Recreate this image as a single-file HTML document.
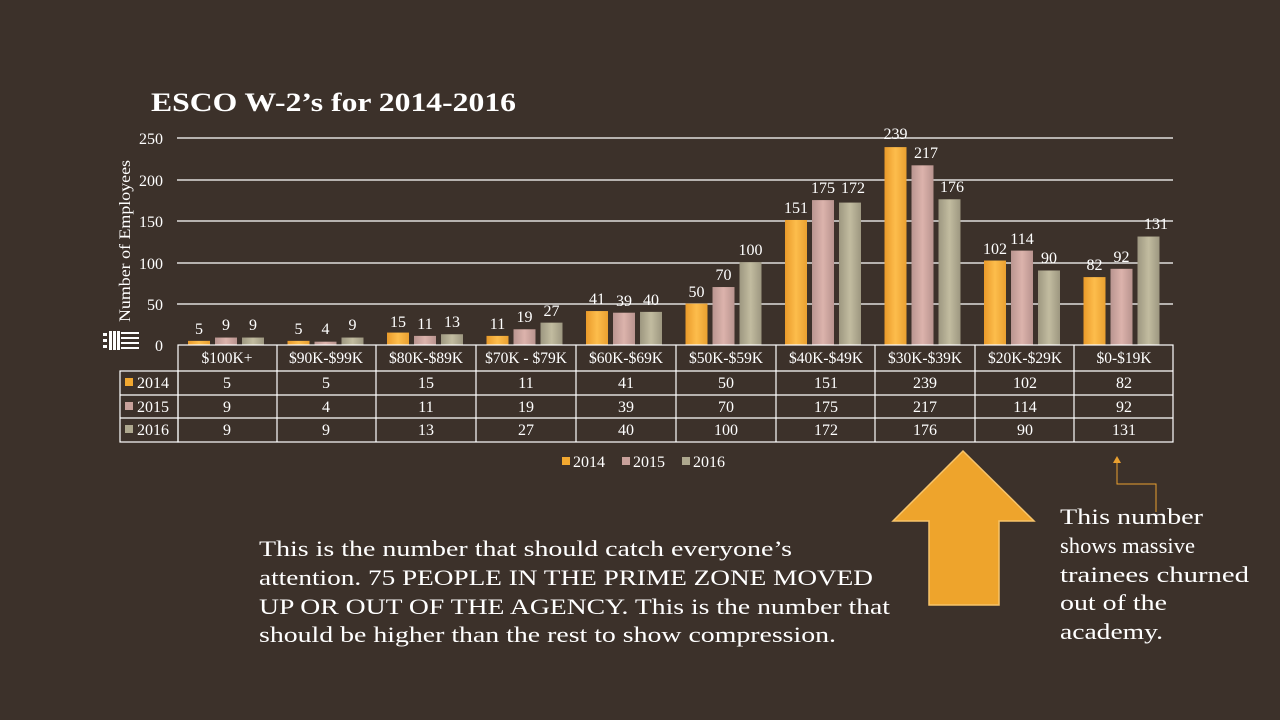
<!DOCTYPE html>
<html><head><meta charset="utf-8"><style>
html,body{margin:0;padding:0;background:#3c312a;}
svg{display:block;font-family:"Liberation Serif",serif;}
</style></head><body>
<svg width="1280" height="720" viewBox="0 0 1280 720" xmlns="http://www.w3.org/2000/svg">
<defs>
<linearGradient id="g1" x1="0" x2="1"><stop offset="0" stop-color="#e99a2a"/><stop offset=".5" stop-color="#fdbd4c"/><stop offset="1" stop-color="#e9a030"/></linearGradient>
<linearGradient id="g2" x1="0" x2="1"><stop offset="0" stop-color="#b99590"/><stop offset=".5" stop-color="#dcb3ac"/><stop offset="1" stop-color="#b8938e"/></linearGradient>
<linearGradient id="g3" x1="0" x2="1"><stop offset="0" stop-color="#9d9780"/><stop offset=".5" stop-color="#c2bca0"/><stop offset="1" stop-color="#9d9780"/></linearGradient>
</defs>
<rect width="1280" height="720" fill="#3c312a"/>
<text x="151" y="111" font-size="26" font-weight="bold" fill="#fff" textLength="365" lengthAdjust="spacingAndGlyphs">ESCO W-2’s for 2014-2016</text>
<g stroke="#fff" stroke-width="1.2">
<line x1="177" y1="138" x2="1173" y2="138"/><line x1="177" y1="180" x2="1173" y2="180"/>
<line x1="177" y1="221" x2="1173" y2="221"/><line x1="177" y1="263" x2="1173" y2="263"/>
<line x1="177" y1="304" x2="1173" y2="304"/>
</g>
<g fill="#fff" font-size="16" text-anchor="end">
<text x="163" y="144">250</text><text x="163" y="186">200</text><text x="163" y="227">150</text>
<text x="163" y="269">100</text><text x="163" y="310">50</text><text x="163" y="351">0</text>
</g>
<text transform="translate(130,322) rotate(-90)" font-size="16" fill="#fff" textLength="162" lengthAdjust="spacingAndGlyphs">Number of Employees</text>
<g fill="#fff"><rect x="103" y="333" width="4" height="3"/><rect x="103" y="339" width="4" height="3"/><rect x="103" y="345" width="4" height="3"/>
<rect x="109" y="331" width="3" height="19"/><rect x="113" y="331" width="3" height="19"/><rect x="117" y="331" width="3" height="19"/><rect x="121" y="332" width="18" height="2"/><rect x="121" y="337" width="18" height="2"/><rect x="121" y="342" width="18" height="2"/><rect x="121" y="347" width="18" height="2"/></g>
<g transform="translate(0,345) scale(1,-0.828)">
<g fill="url(#g1)">
<rect x="188" y="0" width="22" height="5"/><rect x="287.5" y="0" width="22" height="5"/><rect x="387" y="0" width="22" height="15"/><rect x="486.5" y="0" width="22" height="11"/><rect x="586" y="0" width="22" height="41"/><rect x="685.5" y="0" width="22" height="50"/><rect x="785" y="0" width="22" height="151"/><rect x="884.5" y="0" width="22" height="239"/><rect x="984" y="0" width="22" height="102"/><rect x="1083.5" y="0" width="22" height="82"/>
</g>
<g fill="url(#g2)">
<rect x="215" y="0" width="22" height="9"/><rect x="314.5" y="0" width="22" height="4"/><rect x="414" y="0" width="22" height="11"/><rect x="513.5" y="0" width="22" height="19"/><rect x="613" y="0" width="22" height="39"/><rect x="712.5" y="0" width="22" height="70"/><rect x="812" y="0" width="22" height="175"/><rect x="911.5" y="0" width="22" height="217"/><rect x="1011" y="0" width="22" height="114"/><rect x="1110.5" y="0" width="22" height="92"/>
</g>
<g fill="url(#g3)">
<rect x="242" y="0" width="22" height="9"/><rect x="341.5" y="0" width="22" height="9"/><rect x="441" y="0" width="22" height="13"/><rect x="540.5" y="0" width="22" height="27"/><rect x="640" y="0" width="22" height="40"/><rect x="739.5" y="0" width="22" height="100"/><rect x="839" y="0" width="22" height="172"/><rect x="938.5" y="0" width="22" height="176"/><rect x="1038" y="0" width="22" height="90"/><rect x="1137.5" y="0" width="22" height="131"/>
</g>
</g>
<g fill="#fff" font-size="16" text-anchor="middle">
<text x="199" y="334">5</text><text x="298.5" y="334">5</text><text x="398" y="327">15</text><text x="497.5" y="329">11</text><text x="597" y="304">41</text><text x="696.5" y="297">50</text><text x="796" y="213">151</text><text x="895.5" y="139">239</text><text x="995" y="254">102</text><text x="1094.5" y="270">82</text>
<text x="226" y="330">9</text><text x="325.5" y="334">4</text><text x="425" y="329">11</text><text x="524.5" y="322">19</text><text x="624" y="306">39</text><text x="723.5" y="280">70</text><text x="823" y="193">175</text><text x="926" y="158">217</text><text x="1022" y="244">114</text><text x="1121.5" y="262">92</text>
<text x="253" y="330">9</text><text x="352.5" y="330">9</text><text x="452" y="327">13</text><text x="551.5" y="316">27</text><text x="651" y="305">40</text><text x="750.5" y="255">100</text><text x="853" y="193">172</text><text x="952" y="192">176</text><text x="1049" y="263">90</text><text x="1156" y="229">131</text>
</g>
<g stroke="#fff" stroke-width="1.2" fill="none">
<rect x="178" y="345" width="995" height="97"/>
<rect x="120" y="371" width="58" height="71"/>
<line x1="120" y1="395" x2="1173" y2="395"/><line x1="120" y1="418" x2="1173" y2="418"/><line x1="178" y1="371" x2="1173" y2="371"/>
<line x1="277" y1="345" x2="277" y2="442"/><line x1="376" y1="345" x2="376" y2="442"/><line x1="476" y1="345" x2="476" y2="442"/><line x1="576" y1="345" x2="576" y2="442"/><line x1="676" y1="345" x2="676" y2="442"/><line x1="776" y1="345" x2="776" y2="442"/><line x1="875" y1="345" x2="875" y2="442"/><line x1="975" y1="345" x2="975" y2="442"/><line x1="1074" y1="345" x2="1074" y2="442"/>
</g>
<rect x="125" y="378" width="8" height="8" fill="#f2a830"/><rect x="125" y="402" width="8" height="8" fill="#c9a19b"/><rect x="125" y="425" width="8" height="8" fill="#aea88e"/>
<g fill="#fff" font-size="16">
<text x="137" y="388">2014</text><text x="137" y="412">2015</text><text x="137" y="435">2016</text>
</g>
<g fill="#fff" font-size="15.5" text-anchor="middle">
<text x="227" y="363">$100K+</text><text x="326" y="363">$90K-$99K</text><text x="426" y="363">$80K-$89K</text><text x="526" y="363">$70K - $79K</text><text x="626" y="363">$60K-$69K</text><text x="726" y="363">$50K-$59K</text><text x="826" y="363">$40K-$49K</text><text x="925" y="363">$30K-$39K</text><text x="1025" y="363">$20K-$29K</text><text x="1124" y="363">$0-$19K</text>
</g>
<g fill="#fff" font-size="16" text-anchor="middle">
<text x="227" y="388">5</text><text x="326" y="388">5</text><text x="426" y="388">15</text><text x="526" y="388">11</text><text x="626" y="388">41</text><text x="726" y="388">50</text><text x="826" y="388">151</text><text x="925" y="388">239</text><text x="1025" y="388">102</text><text x="1124" y="388">82</text>
<text x="227" y="412">9</text><text x="326" y="412">4</text><text x="426" y="412">11</text><text x="526" y="412">19</text><text x="626" y="412">39</text><text x="726" y="412">70</text><text x="826" y="412">175</text><text x="925" y="412">217</text><text x="1025" y="412">114</text><text x="1124" y="412">92</text>
<text x="227" y="435">9</text><text x="326" y="435">9</text><text x="426" y="435">13</text><text x="526" y="435">27</text><text x="626" y="435">40</text><text x="726" y="435">100</text><text x="826" y="435">172</text><text x="925" y="435">176</text><text x="1025" y="435">90</text><text x="1124" y="435">131</text>
</g>
<rect x="562" y="457" width="8" height="8" fill="#f2a830"/><rect x="622" y="457" width="8" height="8" fill="#c9a19b"/><rect x="682" y="457" width="8" height="8" fill="#aea88e"/>
<g fill="#fff" font-size="16"><text x="573" y="467">2014</text><text x="633" y="467">2015</text><text x="693" y="467">2016</text></g>
<polygon points="893,521 963,451 1034,521 999,521 999,605 929,605 929,521" fill="#eea42c" stroke="#f7c46a" stroke-width="1.5"/>
<polyline points="1117,462 1117,484 1156,484 1156,512" fill="none" stroke="#e9a030" stroke-width="1"/>
<polygon points="1117,456 1113,463 1121,463" fill="#e9a030"/>
<g fill="#fff" font-size="22" lengthAdjust="spacingAndGlyphs">
<text x="259" y="556" textLength="533" lengthAdjust="spacingAndGlyphs">This is the number that should catch everyone’s</text>
<text x="259" y="585" textLength="614" lengthAdjust="spacingAndGlyphs">attention. 75 PEOPLE IN THE PRIME ZONE MOVED</text>
<text x="259" y="614" textLength="631" lengthAdjust="spacingAndGlyphs">UP OR OUT OF THE AGENCY. This is the number that</text>
<text x="259" y="642" textLength="577" lengthAdjust="spacingAndGlyphs">should be higher than the rest to show compression.</text>
<text x="1060" y="524" textLength="143" lengthAdjust="spacingAndGlyphs">This number</text>
<text x="1060" y="553" textLength="135" lengthAdjust="spacingAndGlyphs">shows massive</text>
<text x="1060" y="582" textLength="189" lengthAdjust="spacingAndGlyphs">trainees churned</text>
<text x="1060" y="610" textLength="107" lengthAdjust="spacingAndGlyphs">out of the</text>
<text x="1060" y="639" textLength="103" lengthAdjust="spacingAndGlyphs">academy.</text>
</g>
</svg>
</body></html>
